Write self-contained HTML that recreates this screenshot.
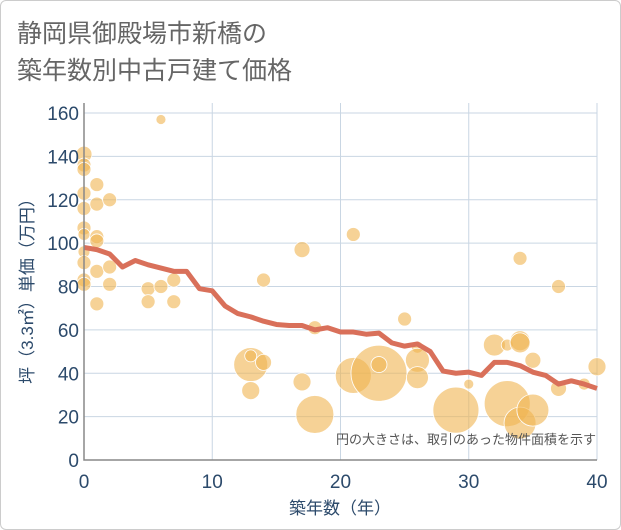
<!DOCTYPE html>
<html><head><meta charset="utf-8"><style>
html,body{margin:0;padding:0;background:#fff;}
#card{position:absolute;left:0;top:0;width:619px;height:528px;border:1px solid #ccc;border-radius:6px;background:#fff;}
.t{font-family:"Liberation Sans","Noto Sans CJK JP",sans-serif;}
</style></head><body>
<div id="card"></div>
<svg id="chart" width="621" height="530" style="position:absolute;left:0;top:0">
<text class="t" x="17" y="42" font-size="25" fill="#666">静岡県御殿場市新橋の</text>
<text class="t" x="17" y="79" font-size="25" fill="#666">築年数別中古戸建て価格</text>
<g id="grid"></g><g id="bubbles"></g><g id="line"></g><g id="axes"></g>
<text class="t" x="596" y="444" font-size="13" fill="#555" text-anchor="end">円の大きさは、取引のあった物件面積を示す</text>
<text class="t" x="340" y="514" font-size="17" fill="#2c4a6b" text-anchor="middle">築年数（年）</text>
<text class="t" transform="translate(33,287) rotate(-90)" font-size="17" fill="#2c4a6b" text-anchor="middle">坪（3.3㎡）単価（万円）</text>
</svg>
<script>
const xTicks=[0,10,20,30,40];
const yTicks=[0,20,40,60,80,100,120,140,160];
const lineYears=[0,1,2,3,4,5,6,7,8,9,10,11,12,13,14,15,16,17,18,19,20,21,22,23,24,25,26,27,28,29,30,31,32,33,34,35,36,37,38,39,40];
const lineValues=[98,97,95,89,92,90,88.5,87,87,79,78,71,67.5,66,64,62.5,62,62,60,61,59,59,58,58.5,54,52.5,53.5,50,41,40,40.5,39,45,45,43.5,40.5,39,35,36.5,35,33];
const bubbleX=[0,0,0,0,0,0,0,0,0,0,0,1,1,1,1,1,1,2,2,2,5,5,6,6,7,7,13,13,13,14,14,17,17,18,18,21,21,23,23,25,26,26,26,29,30,32,33,33,34,34,34,34,35,35,37,37,39,40];
const bubbleY=[141,136,134,123,116,107,104,96,91,83,81,127,118,103,101,87,72,120,89,81,79,73,157,80,83,73,44,48,32,45,83,97,36,21,61,39,104,40,44,65,52,46,38,23,35,53,53,26,55,54,93,17,23,46,80,33,35,43];
const bubbleR=[8,7,7,7,7,7,6,6,7,7,7,7,7,7,7,7,7,7,7,7,7,7,5,7,7,7,17,6,9,8,7,8,9,19,7,18,7,28,8,7,6,12,11,23,5,11,6,23,10,10,7,16,16,8,7,8,6,9];
const NS='http://www.w3.org/2000/svg';
const X0=84,X1=597,Y0=460,Y1=113;
const xs=v=>X0+(v/40)*(X1-X0);
const ys=v=>Y0-(v/160)*(Y0-Y1);
function mk(t,a,p){const e=document.createElementNS(NS,t);for(const k in a)e.setAttribute(k,a[k]);p.appendChild(e);return e;}
const grid=document.getElementById('grid'),axes=document.getElementById('axes');
yTicks.forEach(v=>{
 const l=mk('line',{x1:X0,x2:X1,y1:ys(v),y2:ys(v),stroke:'#c9d6e3','stroke-width':1},grid);
 
 
 const t=mk('text',{x:X0-5,y:ys(v)+7,'font-size':19,fill:'#2c4a6b','text-anchor':'end',class:'t'},axes);
 t.textContent=v;
 
 
});
xTicks.forEach(v=>{
 const l=mk('line',{x1:xs(v),x2:xs(v),y1:Y1-10,y2:Y0,stroke:'#c9d6e3','stroke-width':1},grid);
 
 
 const t=mk('text',{x:xs(v),y:Y0+28,'font-size':19,fill:'#2c4a6b','text-anchor':'middle',class:'t'},axes);
 t.textContent=v;
 
 
});
const ax=mk('path',{d:`M${X0} ${Y1-10}V${Y0}H${X1}`,fill:'none',stroke:'#888','stroke-width':1.5},axes);


const bg=document.getElementById('bubbles');
bubbleX.forEach((x,i)=>{
 const c=mk('circle',{cx:xs(x),cy:ys(bubbleY[i]),r:bubbleR[i],fill:'rgba(240,180,80,0.6)',stroke:'#fff','stroke-width':0.8},bg);
 
 
});
const pts=lineYears.map((x,i)=>xs(x)+','+ys(lineValues[i])).join(' ');
const pl=mk('polyline',{points:pts,fill:'none',stroke:'#d9705a','stroke-width':5,'stroke-linejoin':'round'},document.getElementById('line'));


</script>
</body></html>
